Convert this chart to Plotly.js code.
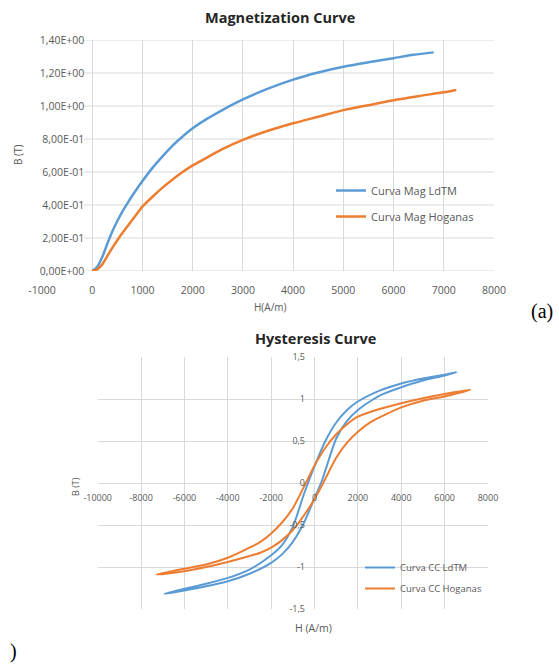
<!DOCTYPE html>
<html><head><meta charset="utf-8">
<script src="https://cdn.plot.ly/plotly-3.0.1.min.js"></script>
<style>html,body{margin:0;padding:0;background:#fff}#chart{width:559px;height:666px}</style>
</head><body><div id="chart"></div>
<script>
// ---------- Magnetization curve data ----------
const magH_LdTM = [0,100,200,300,400,500,600,700,850,1000,1200,1400,1600,1800,2000,2300,2600,3000,3500,4000,4500,5000,5500,6000,6400,6800];
const magB_LdTM = [0,0.025,0.085,0.165,0.24,0.303,0.36,0.41,0.48,0.545,0.625,0.695,0.76,0.815,0.865,0.925,0.977,1.04,1.105,1.16,1.203,1.238,1.265,1.29,1.31,1.325];
const magH_Hog = [0,100,200,300,400,530,700,850,1000,1200,1400,1600,1800,2000,2300,2600,3000,3500,4000,4500,5000,5500,6000,6500,7000,7250];
const magB_Hog = [0,0.01,0.04,0.09,0.14,0.2,0.27,0.33,0.39,0.45,0.505,0.555,0.6,0.64,0.69,0.74,0.795,0.85,0.895,0.935,0.975,1.005,1.035,1.06,1.083,1.097];

// ---------- Hysteresis loop data ----------
const hysH_LdTM = [6546,6000,5000,4000,3000,2000,1500,1000,500,0,-300,-500,-1000,-1500,-2000,-3000,-4000,-5000,-6000,-6924,
                   -6000,-5000,-4000,-3000,-2000,-1500,-1000,-500,0,300,500,1000,1500,2000,3000,4000,5000,6000,6546];
const hysB_LdTM = [1.32,1.29,1.245,1.185,1.10,0.97,0.87,0.72,0.50,0.20,0.0,-0.14,-0.52,-0.74,-0.86,-1.03,-1.13,-1.20,-1.26,-1.32,
                   -1.28,-1.23,-1.17,-1.08,-0.95,-0.85,-0.70,-0.48,-0.18,0.0,0.15,0.53,0.74,0.87,1.04,1.14,1.22,1.28,1.32];
const hysH_Hog = [7186,6000,5000,4000,3000,2500,2000,1500,1000,500,0,-400,-1000,-1500,-2000,-2500,-3000,-4000,-5000,-6000,-7285,
                  -6000,-5000,-4000,-3000,-2500,-2000,-1500,-1000,-500,0,400,1000,1500,2000,2500,3000,4000,5000,6000,7186];
const hysB_Hog = [1.11,1.06,1.01,0.95,0.88,0.84,0.79,0.70,0.58,0.42,0.21,0.0,-0.30,-0.47,-0.60,-0.70,-0.77,-0.89,-0.97,-1.02,-1.09,
                  -1.05,-1.00,-0.94,-0.87,-0.83,-0.77,-0.68,-0.56,-0.39,-0.19,0.0,0.30,0.48,0.61,0.71,0.78,0.90,0.98,1.03,1.11];

// ---------- Tick labels ----------
const magXTicks = [-1000,0,1000,2000,3000,4000,5000,6000,7000,8000];
const magXText = ["-1000","0","1000","2000","3000","4000","5000","6000","7000","8000"];
const magYTicks = [0,0.2,0.4,0.6,0.8,1.0,1.2,1.4];
const magYText = ["0,00E+00","2,00E-01","4,00E-01","6,00E-01","8,00E-01","1,00E+00","1,20E+00","1,40E+00"];
const hysXTicks = [-10000,-8000,-6000,-4000,-2000,0,2000,4000,6000,8000];
const hysXText = ["-10000","-8000","-6000","-4000","-2000","0","2000","4000","6000","8000"];
const hysYTicks = [-1.5,-1,-0.5,0,0.5,1,1.5];
const hysYText = ["-1,5","-1","-0,5","0","0,5","1","1,5"];

const W = 559, H = 666;
const px = v => v / W;
const py = v => 1 - v / H;

const BLUE = '#5B9BD5', ORANGE = '#ED7D31', GRID = '#d9d9d9', TXT = '#595959';
const FONT = 'Open Sans, Noto Sans, sans-serif';

const traces = [
  {x: magH_LdTM, y: magB_LdTM, name: 'Curva Mag LdTM', mode: 'lines', line: {color: BLUE, width: 2.5, shape: 'spline', smoothing: 0.8}, xaxis: 'x', yaxis: 'y', legend: 'legend'},
  {x: magH_Hog, y: magB_Hog, name: 'Curva Mag Hoganas', mode: 'lines', line: {color: ORANGE, width: 2.5, shape: 'spline', smoothing: 0.8}, xaxis: 'x', yaxis: 'y', legend: 'legend'},
  {x: hysH_LdTM, y: hysB_LdTM, name: 'Curva CC LdTM', mode: 'lines', line: {color: BLUE, width: 2, shape: 'spline', smoothing: 0.7}, xaxis: 'x2', yaxis: 'y2', legend: 'legend2'},
  {x: hysH_Hog, y: hysB_Hog, name: 'Curva CC Hoganas', mode: 'lines', line: {color: ORANGE, width: 2, shape: 'spline', smoothing: 0.7}, xaxis: 'x2', yaxis: 'y2', legend: 'legend2'}
];
traces.forEach((t, i) => { t.legendgroup = 'g' + i; });

const shapes = magYTicks.map(v => ({
  type: 'line', xref: 'paper', yref: 'y', x0: px(84), x1: px(494), y0: v, y1: v,
  line: {color: GRID, width: 1}, layer: 'below'
}));

const tickFontTop = {family: FONT, size: 10.5, color: TXT};
const tickFontBot = {family: FONT, size: 9, color: TXT};

function ann(text, x, y, font, extra) {
  return Object.assign({text: text, x: px(x), y: py(y), xref: 'paper', yref: 'paper', showarrow: false,
    xanchor: 'center', yanchor: 'middle', font: font}, extra || {});
}

const layout = {
  width: W, height: H,
  margin: {l: 0, r: 0, t: 0, b: 0},
  paper_bgcolor: '#fff', plot_bgcolor: 'rgba(0,0,0,0)',
  showlegend: true,
  xaxis: {domain: [px(42), px(494)], range: [-1000, 8000], anchor: 'y',
          tickvals: magXTicks, ticktext: magXText, tickfont: tickFontTop,
          showgrid: true, gridcolor: GRID, gridwidth: 1, zeroline: false, showline: false,
          ticks: '', ticklabelstandoff: 11, fixedrange: true},
  yaxis: {domain: [py(271), py(40)], range: [0, 1.4], anchor: 'free', position: px(92.3),
          tickvals: magYTicks, ticktext: magYText, tickfont: tickFontTop,
          showgrid: false, zeroline: false, showline: false, ticks: '', ticklabelstandoff: 8, fixedrange: true},
  xaxis2: {domain: [px(97.7), px(488)], range: [-10000, 8000], anchor: 'free', position: py(483),
          tickvals: hysXTicks, ticktext: hysXText, tickfont: tickFontBot,
          showgrid: true, gridcolor: GRID, gridwidth: 1, zeroline: false, showline: false,
          ticks: '', ticklabelstandoff: 8, fixedrange: true},
  yaxis2: {domain: [py(609), py(357)], range: [-1.5, 1.5], anchor: 'free', position: px(315),
          tickvals: hysYTicks, ticktext: hysYText, tickfont: tickFontBot,
          showgrid: true, gridcolor: GRID, gridwidth: 1, zeroline: false, showline: false,
          ticks: '', ticklabelstandoff: 10, fixedrange: true},
  legend: {x: px(331), y: py(176), xanchor: 'left', yanchor: 'top', bgcolor: 'rgba(0,0,0,0)',
           font: {family: FONT, size: 11, color: TXT}, itemwidth: 30, tracegroupgap: 7},
  legend2: {x: px(360), y: py(553), xanchor: 'left', yanchor: 'top', bgcolor: 'rgba(0,0,0,0)',
           font: {family: FONT, size: 9.5, color: TXT}, itemwidth: 30, tracegroupgap: 2},
  shapes: shapes,
  annotations: [
    ann('<b>Magnetization Curve</b>', 280, 17, {family: FONT, size: 14.5, color: '#262626'}),
    ann('<b>Hysteresis Curve</b>', 315, 338, {family: FONT, size: 14.5, color: '#262626'}),
    ann('H(A/m)', 270, 307, {family: FONT, size: 10, color: TXT}),
    ann('B (T)', 18, 155, {family: FONT, size: 10, color: TXT}, {textangle: -90}),
    ann('H (A/m)', 313, 628, {family: FONT, size: 10.5, color: TXT}),
    ann('B (T)', 75, 487, {family: FONT, size: 9, color: TXT}, {textangle: -90}),
    ann('(a)', 542, 311, {family: 'Liberation Serif, DejaVu Serif, serif', size: 20, color: '#000'}),
    ann(')', 13, 651, {family: 'Liberation Serif, DejaVu Serif, serif', size: 20, color: '#000'})
  ]
};

Plotly.newPlot('chart', traces, layout, {displayModeBar: false, staticPlot: true});
</script>
</body></html>
